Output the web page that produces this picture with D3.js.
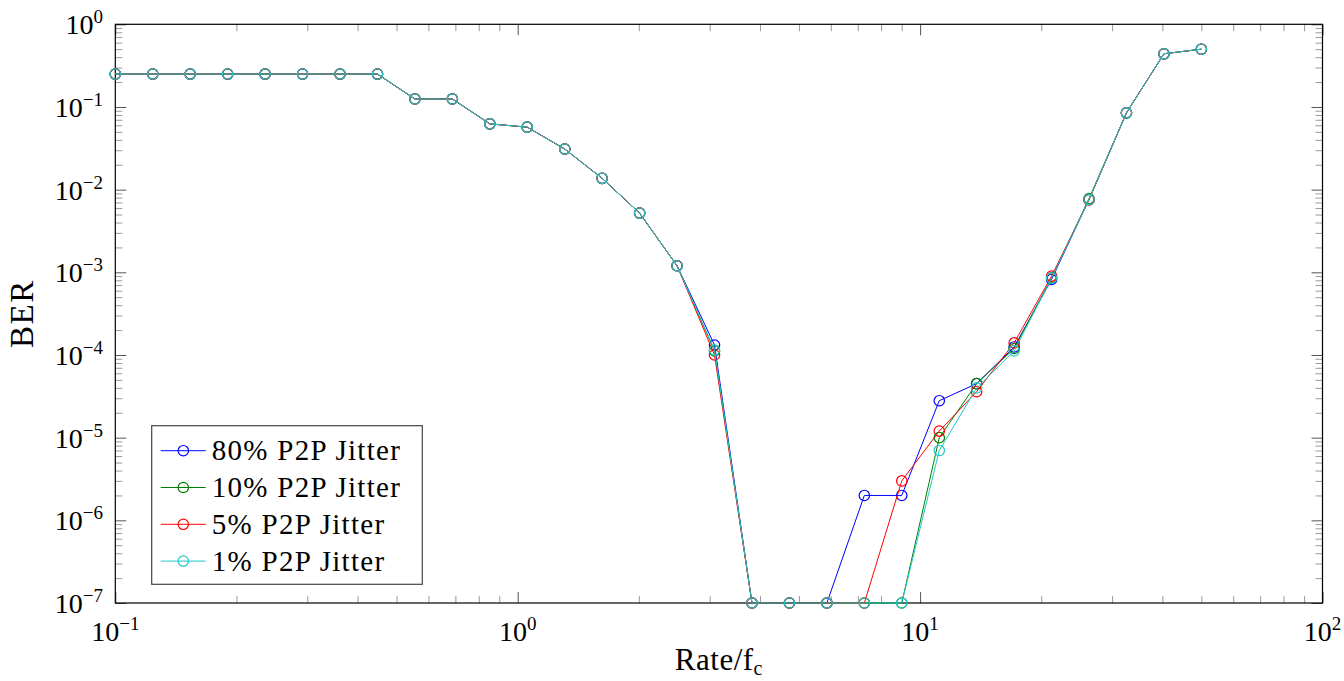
<!DOCTYPE html>
<html>
<head>
<meta charset="utf-8">
<script src="https://cdn.jsdelivr.net/npm/d3@7"></script>
<style>
  body { margin: 0; background: #fff; }
  svg { display: block; }
  svg text { font-family: 'Liberation Serif', 'Times New Roman', serif; }
</style>
</head>
<body>
<svg id="chart" width="1344" height="681"></svg>
<script>
// Data
var rates = [0.1, 0.1239, 0.1535, 0.1902, 0.2357, 0.2920, 0.3618, 0.4482, 0.5553, 0.6881,
  0.8525, 1.056, 1.309, 1.621, 2.009, 2.489, 3.084, 3.821, 4.734, 5.866,
  7.268, 9.004, 11.16, 13.82, 17.13, 21.22, 26.29, 32.57, 40.36, 50.0]

var ber80 = [0.25, 0.25, 0.25, 0.25, 0.25, 0.25, 0.25, 0.25, 0.125, 0.125,
  0.0625, 0.057, 0.031, 0.0137, 0.0052, 0.0012, 1.32e-4, 1e-7, 1e-7, 1e-7,
  2e-6, 2e-6, 2.8e-5, 4.5e-5, 1.25e-4, 8.2e-4, 7.6e-3, 0.085, 0.44, 0.5]

var ber10 = [0.25, 0.25, 0.25, 0.25, 0.25, 0.25, 0.25, 0.25, 0.125, 0.125,
  0.0625, 0.057, 0.031, 0.0137, 0.0052, 0.0012, 1.12e-4, 1e-7, 1e-7, 1e-7,
  1e-7, 1e-7, 1.0e-5, 4.5e-5, 1.2e-4, 8.6e-4, 7.8e-3, 0.085, 0.44, 0.5]

var ber5 = [0.25, 0.25, 0.25, 0.25, 0.25, 0.25, 0.25, 0.25, 0.125, 0.125,
  0.0625, 0.057, 0.031, 0.0137, 0.0052, 0.0012, 1.0e-4, 1e-7, 1e-7, 1e-7,
  1e-7, 3e-6, 1.2e-5, 3.6e-5, 1.4e-4, 9.0e-4, 7.5e-3, 0.085, 0.44, 0.5]

var ber1 = [0.25, 0.25, 0.25, 0.25, 0.25, 0.25, 0.25, 0.25, 0.125, 0.125,
  0.0625, 0.057, 0.031, 0.0137, 0.0052, 0.0012, 1.15e-4, 1e-7, 1e-7, 1e-7,
  1e-7, 1e-7, 7e-6, 4.0e-5, 1.12e-4, 8.5e-4, 7.6e-3, 0.085, 0.44, 0.5]

var seriesNames = ['80% P2P Jitter', '10% P2P Jitter', '5% P2P Jitter', '1% P2P Jitter']
var seriesColors = ['#0000ff', '#008000', '#ff0000', '#1fc8c8']

var xMajor = [0.1, 1, 10, 100]
var xMajorExp = ['\u22121', '0', '1', '2']
var yMajor = [1e-7, 1e-6, 1e-5, 1e-4, 1e-3, 1e-2, 1e-1, 1]
var yMajorExp = ['\u22127', '\u22126', '\u22125', '\u22124', '\u22123', '\u22122', '\u22121', '0']

var conf = {
  left: 115.3,
  right: 1322.5,
  top: 24.3,
  bottom: 603,
  majorTick: 11,
  minorTick: 7,
  fontSize: 28,
  supSize: 19
}

var svg = d3.select('#chart')

var x = d3.scaleLog().domain([0.1, 100]).range([conf.left, conf.right])
var y = d3.scaleLog().domain([1e-7, 1]).range([conf.bottom, conf.top])

function isMajor (v) {
  var l = Math.log10(v)
  return Math.abs(l - Math.round(l)) < 1e-9
}

var xMinor = x.ticks().filter(function (d) { return !isMajor(d) })
var yMinor = y.ticks().filter(function (d) { return !isMajor(d) })

// Ticks on all four sides, pointing inward
function drawTicks (axisFn, scale, values, size, transform, color) {
  var g = svg.append('g')
    .attr('transform', transform)
    .call(axisFn(scale).tickValues(values).tickSize(-size).tickFormat(''))
  g.select('.domain').remove()
  g.selectAll('.tick line').attr('stroke', color).attr('stroke-width', 1)
}

drawTicks(d3.axisBottom, x, xMinor, conf.minorTick, 'translate(0,' + conf.bottom + ')', '#9a9a9a')
drawTicks(d3.axisTop, x, xMinor, conf.minorTick, 'translate(0,' + conf.top + ')', '#9a9a9a')
drawTicks(d3.axisLeft, y, yMinor, conf.minorTick, 'translate(' + conf.left + ',0)', '#9a9a9a')
drawTicks(d3.axisRight, y, yMinor, conf.minorTick, 'translate(' + conf.right + ',0)', '#9a9a9a')
drawTicks(d3.axisBottom, x, xMajor, conf.majorTick, 'translate(0,' + conf.bottom + ')', '#555')
drawTicks(d3.axisTop, x, xMajor, conf.majorTick, 'translate(0,' + conf.top + ')', '#555')
drawTicks(d3.axisLeft, y, yMajor, conf.majorTick, 'translate(' + conf.left + ',0)', '#555')
drawTicks(d3.axisRight, y, yMajor, conf.majorTick, 'translate(' + conf.right + ',0)', '#555')

// Frame
svg.append('rect')
  .attr('x', conf.left)
  .attr('y', conf.top)
  .attr('width', conf.right - conf.left)
  .attr('height', conf.bottom - conf.top)
  .attr('fill', 'none')
  .attr('stroke', '#000')
  .attr('stroke-width', 1.2)

// Tick labels: X
var xLabels = svg.selectAll('text.xlabel')
  .data(xMajor)
  .enter()
    .append('text')
    .attr('class', 'xlabel')
    .attr('x', function (d) { return x(d) })
    .attr('y', 641)
    .attr('text-anchor', 'middle')
    .attr('font-size', conf.fontSize)
    .attr('fill', '#000')

xLabels.append('tspan').text('10')
xLabels.append('tspan')
  .attr('dy', -11)
  .attr('font-size', conf.supSize)
  .text(function (d, i) { return xMajorExp[i] })

// Tick labels: Y
var yLabels = svg.selectAll('text.ylabel')
  .data(yMajor)
  .enter()
    .append('text')
    .attr('class', 'ylabel')
    .attr('x', 103)
    .attr('y', function (d) { return y(d) + 10 })
    .attr('text-anchor', 'end')
    .attr('font-size', conf.fontSize)
    .attr('fill', '#000')

yLabels.append('tspan').text('10')
yLabels.append('tspan')
  .attr('dy', -11)
  .attr('font-size', conf.supSize)
  .text(function (d, i) { return yMajorExp[i] })

// Axis titles
var xTitle = svg.append('text')
  .attr('x', (conf.left + conf.right) / 2)
  .attr('y', 670)
  .attr('text-anchor', 'middle')
  .attr('font-size', 31)
  .attr('letter-spacing', 0.5)
xTitle.append('tspan').text('Rate/f')
xTitle.append('tspan').attr('dy', 5).attr('font-size', 20).text('c')

svg.append('text')
  .attr('transform', 'translate(33,' + (conf.top + conf.bottom) / 2 + ') rotate(-90)')
  .attr('text-anchor', 'middle')
  .attr('font-size', 33)
  .attr('letter-spacing', 1.5)
  .text('BER')

// Series
var allSeries = [ber80, ber10, ber5, ber1]

var line = d3.line()
  .x(function (d, i) { return x(rates[i]) })
  .y(function (d) { return y(d) })

allSeries.forEach(function (values, s) {
  var g = svg.append('g').attr('class', 'series')

  g.append('path')
    .datum(values)
    .attr('d', line)
    .attr('fill', 'none')
    .attr('stroke', seriesColors[s])
    .attr('stroke-width', 1)

  g.selectAll('circle')
    .data(values)
    .enter()
      .append('circle')
      .attr('cx', function (d, i) { return x(rates[i]) })
      .attr('cy', function (d) { return y(d) })
      .attr('r', 5.2)
      .attr('fill', 'none')
      .attr('stroke', seriesColors[s])
      .attr('stroke-width', 1.2)
})

// Legend
var legend = svg.append('g').attr('class', 'legend')

legend.append('rect')
  .attr('x', 151.7)
  .attr('y', 425.7)
  .attr('width', 270.6)
  .attr('height', 158.6)
  .attr('fill', '#fff')
  .attr('stroke', '#444')
  .attr('stroke-width', 1.2)

var rows = legend.selectAll('g.row')
  .data(seriesNames)
  .enter()
    .append('g')
    .attr('class', 'row')
    .attr('transform', function (d, i) {
      return 'translate(0, ' + (450.7 + i * 36.8) + ')'
    })

rows.append('line')
  .attr('x1', 160.7)
  .attr('x2', 205.7)
  .attr('stroke', function (d, i) { return seriesColors[i] })
  .attr('stroke-width', 1)

rows.append('circle')
  .attr('cx', 183.3)
  .attr('r', 5.2)
  .attr('fill', 'none')
  .attr('stroke', function (d, i) { return seriesColors[i] })
  .attr('stroke-width', 1.2)

rows.append('text')
  .attr('x', 211.7)
  .attr('y', 9.5)
  .attr('font-size', 29)
  .attr('letter-spacing', 1.3)
  .text(function (d) { return d })
</script>
</body>
</html>
